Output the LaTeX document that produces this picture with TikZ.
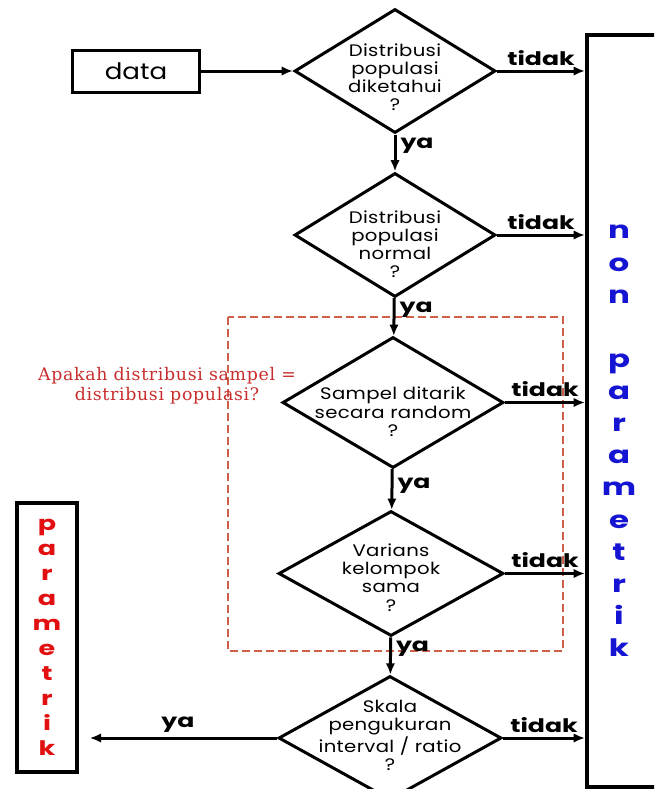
\documentclass[tikz,border=0pt]{standalone}
\usepackage{fontspec}
\setmainfont[FakeStretch=1.15]{Poppins}
\newfontfamily\lblfont[FakeStretch=1.35]{Poppins}
\newfontfamily\qfont[FakeStretch=1.18, LetterSpace=2]{Poppins}
\newfontfamily\notefont[LetterSpace=4]{DejaVu Serif}
\usetikzlibrary{arrows.meta, shapes.geometric, positioning}
\definecolor{noteRed}{RGB}{200,45,45}
\definecolor{dashRed}{RGB}{205,95,75}
\definecolor{npBlue}{RGB}{20,20,210}
\definecolor{parRed}{RGB}{225,15,15}
\tikzset{
  decision/.style={
    diamond, draw=black, line width=2.25pt, inner sep=0pt
  },
  qtext/.style={
    align=center, inner sep=0pt,
    font=\qfont\fontsize{12.5}{13.6}\selectfont
  },
  startbox/.style={
    rectangle, draw=black, line width=2.25pt,
    minimum width=95.25pt, minimum height=31.5pt,
    font=\fontsize{17}{20}\selectfont
  },
  outbox/.style={
    rectangle, draw=black, line width=3pt, inner sep=0pt
  },
  arrow/.style={-{Latex[length=8.5pt,width=7pt]}, line width=2.25pt, draw=black},
  yalbl/.style={font=\lblfont\bfseries\fontsize{14}{16}\selectfont, inner sep=3pt},
  dashbox/.style={draw=dashRed, line width=0.8pt, dash pattern=on 6pt off 3pt}
}
\begin{document}
\begin{tikzpicture}[x=0.75pt, y=-0.75pt, node distance=27.75pt]
\useasboundingbox (0,0) rectangle (654,789);
\clip (0,0) rectangle (654,789);

% group of sample questions
\draw[dashbox] (228,317) rectangle (563,651);
\node[text=noteRed, align=center, inner sep=0pt,
      font=\notefont\fontsize{13}{15}\selectfont] (note) at (167,386)
  {Apakah distribusi sampel =\\distribusi populasi?};

% decision column
\node[decision, minimum width=150.75pt, minimum height=93pt] (d1) at (395,71) {};
\node[decision, minimum width=150.75pt, minimum height=93pt, below=of d1] (d2) {};
\node[decision, minimum width=165.75pt, minimum height=98.25pt, below=of d2, xshift=-1.5pt] (d3) {};
\node[decision, minimum width=168.75pt, minimum height=93.75pt, below=30pt of d3, xshift=-1.5pt] (d4) {};
\node[decision, minimum width=167.25pt, minimum height=93pt, below=of d4, xshift=-0.75pt] (d5) {};

\node[qtext, yshift=-4.5pt] (q1) at (d1) {Distribusi\\populasi\\diketahui\\?};
\node[qtext, yshift=-7pt] (q2) at (d2) {Distribusi\\populasi\\normal\\?};
\node[qtext, yshift=-7pt] (q3) at (d3) {Sampel ditarik\\secara random\\?};
\node[qtext, yshift=-3pt] (q4) at (d4) {Varians\\kelompok\\sama\\?};
\node[qtext, yshift=2pt] (q5) at (d5) {Skala\\pengukuran\\interval / ratio\\?};

% start and results
\node[startbox, left=69pt of d1] (data) {data};
\node[outbox, minimum width=54.75pt, minimum height=564pt] (nonpar) at (623.5,411) {};
\node[text=npBlue, align=center, inner sep=0pt,
      font=\lblfont\bfseries\fontsize{18}{24.1}\selectfont] (nptext) at (619,441)
  {n\\o\\n\\\mbox{}\\p\\a\\r\\a\\m\\e\\t\\r\\i\\k};
\node[outbox, minimum width=45pt, minimum height=201.75pt, text=parRed, align=center,
      font=\lblfont\bfseries\fontsize{15}{18.75}\selectfont] (par) at (47,637.5)
  {p\\a\\r\\a\\m\\e\\t\\r\\i\\k};

% flow arrows
\draw[arrow] (data) -- (d1);
\draw[arrow] (d1) -- node[yalbl, right, pos=0.3] {ya} (d2);
\draw[arrow] (d2) -- node[yalbl, right, pos=0.3] {ya} (d3);
\draw[arrow] (d3) -- node[yalbl, right, pos=0.4] {ya} (d4);
\draw[arrow] (d4) -- node[yalbl, right, pos=0.3] {ya} (d5);
\draw[arrow] (d1.east) -- node[yalbl, above] {tidak} (d1.east -| nonpar.west);
\draw[arrow] (d2.east) -- node[yalbl, above] {tidak} (d2.east -| nonpar.west);
\draw[arrow] (d3.east) -- node[yalbl, above] {tidak} (d3.east -| nonpar.west);
\draw[arrow] (d4.east) -- node[yalbl, above] {tidak} (d4.east -| nonpar.west);
\draw[arrow] (d5.east) -- node[yalbl, above] {tidak} (d5.east -| nonpar.west);
\draw[arrow, shorten >=8pt] (d5.west) -- node[yalbl, above] {ya} (d5.west -| par.east);

\end{tikzpicture}
\end{document}
